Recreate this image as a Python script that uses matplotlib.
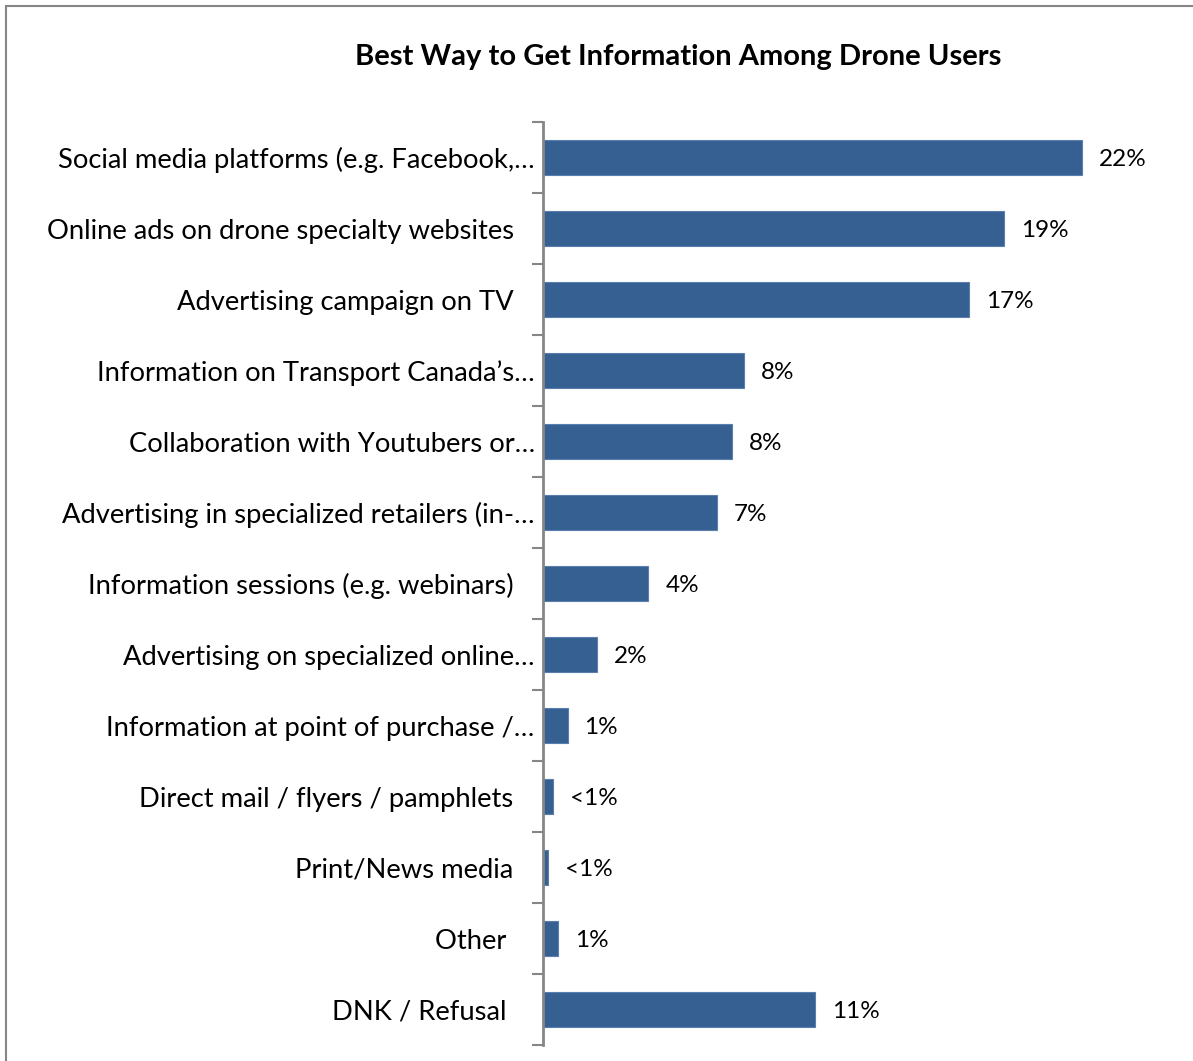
import numpy as np
import matplotlib.pyplot as plt
from matplotlib.patches import Rectangle

plt.rcParams['font.family'] = ['Lato', 'DejaVu Sans']

title = 'Best Way to Get Information Among Drone Users'
categories = [
    'Social media platforms (e.g. Facebook,…',
    'Online ads on drone specialty websites   ',
    'Advertising campaign on TV   ',
    'Information on Transport Canada’s…',
    'Collaboration with Youtubers or…',
    'Advertising in specialized retailers (in-…',
    'Information sessions (e.g. webinars)   ',
    'Advertising on specialized online…',
    'Information at point of purchase /…',
    'Direct mail / flyers / pamphlets   ',
    'Print/News media   ',
    'Other    ',
    'DNK / Refusal    ',
]
shares = [22.0, 18.8, 17.4, 8.2, 7.7, 7.1, 4.3, 2.2, 1.0, 0.4, 0.2, 0.6, 11.1]


def share_label(v):
    return '<1%' if v < 0.5 else f'{round(v)}%'


fig = plt.figure(figsize=(11.93, 10.61), dpi=100)
ax = fig.add_axes([543 / 1193, 16 / 1061, 617 / 1193, 923 / 1061])

pos = np.arange(len(categories))
ax.barh(pos, shares, height=0.5, color='#376092', edgecolor='#5b7fad', linewidth=0.8)

for y, v in zip(pos, shares):
    ax.annotate(share_label(v), (v, y), xytext=(17, 0), textcoords='offset pixels',
                va='center_baseline', ha='left', fontsize=17.5, color='black')

ax.set_xlim(0, 617 / 24.5)
ax.set_ylim(len(categories) - 0.5, -0.5)

ax.set_yticks(pos)
ax.set_yticklabels(categories, fontsize=19.7)
ax.tick_params(axis='y', which='major', length=0, pad=6)
ax.set_yticks(np.arange(len(categories) + 1) - 0.5, minor=True)
ax.tick_params(axis='y', which='minor', length=8, width=1.5, color='#868686', direction='out')

ax.set_xticks([])
for side in ['top', 'right', 'bottom']:
    ax.spines[side].set_visible(False)
ax.spines['left'].set_color('#868686')
ax.spines['left'].set_linewidth(2)

fig.text(678 / 1193, 1 - 57 / 1061, title, ha='center', va='center',
         fontsize=21, fontweight='bold')

# outer chart frame
fig.patches.append(Rectangle((6 / 1193, -0.1), 1.2, 1 - 6 / 1061 + 0.1,
                             transform=fig.transFigure, fill=False,
                             edgecolor='#868686', linewidth=1.5))

fig.savefig('out.png', dpi=100)
